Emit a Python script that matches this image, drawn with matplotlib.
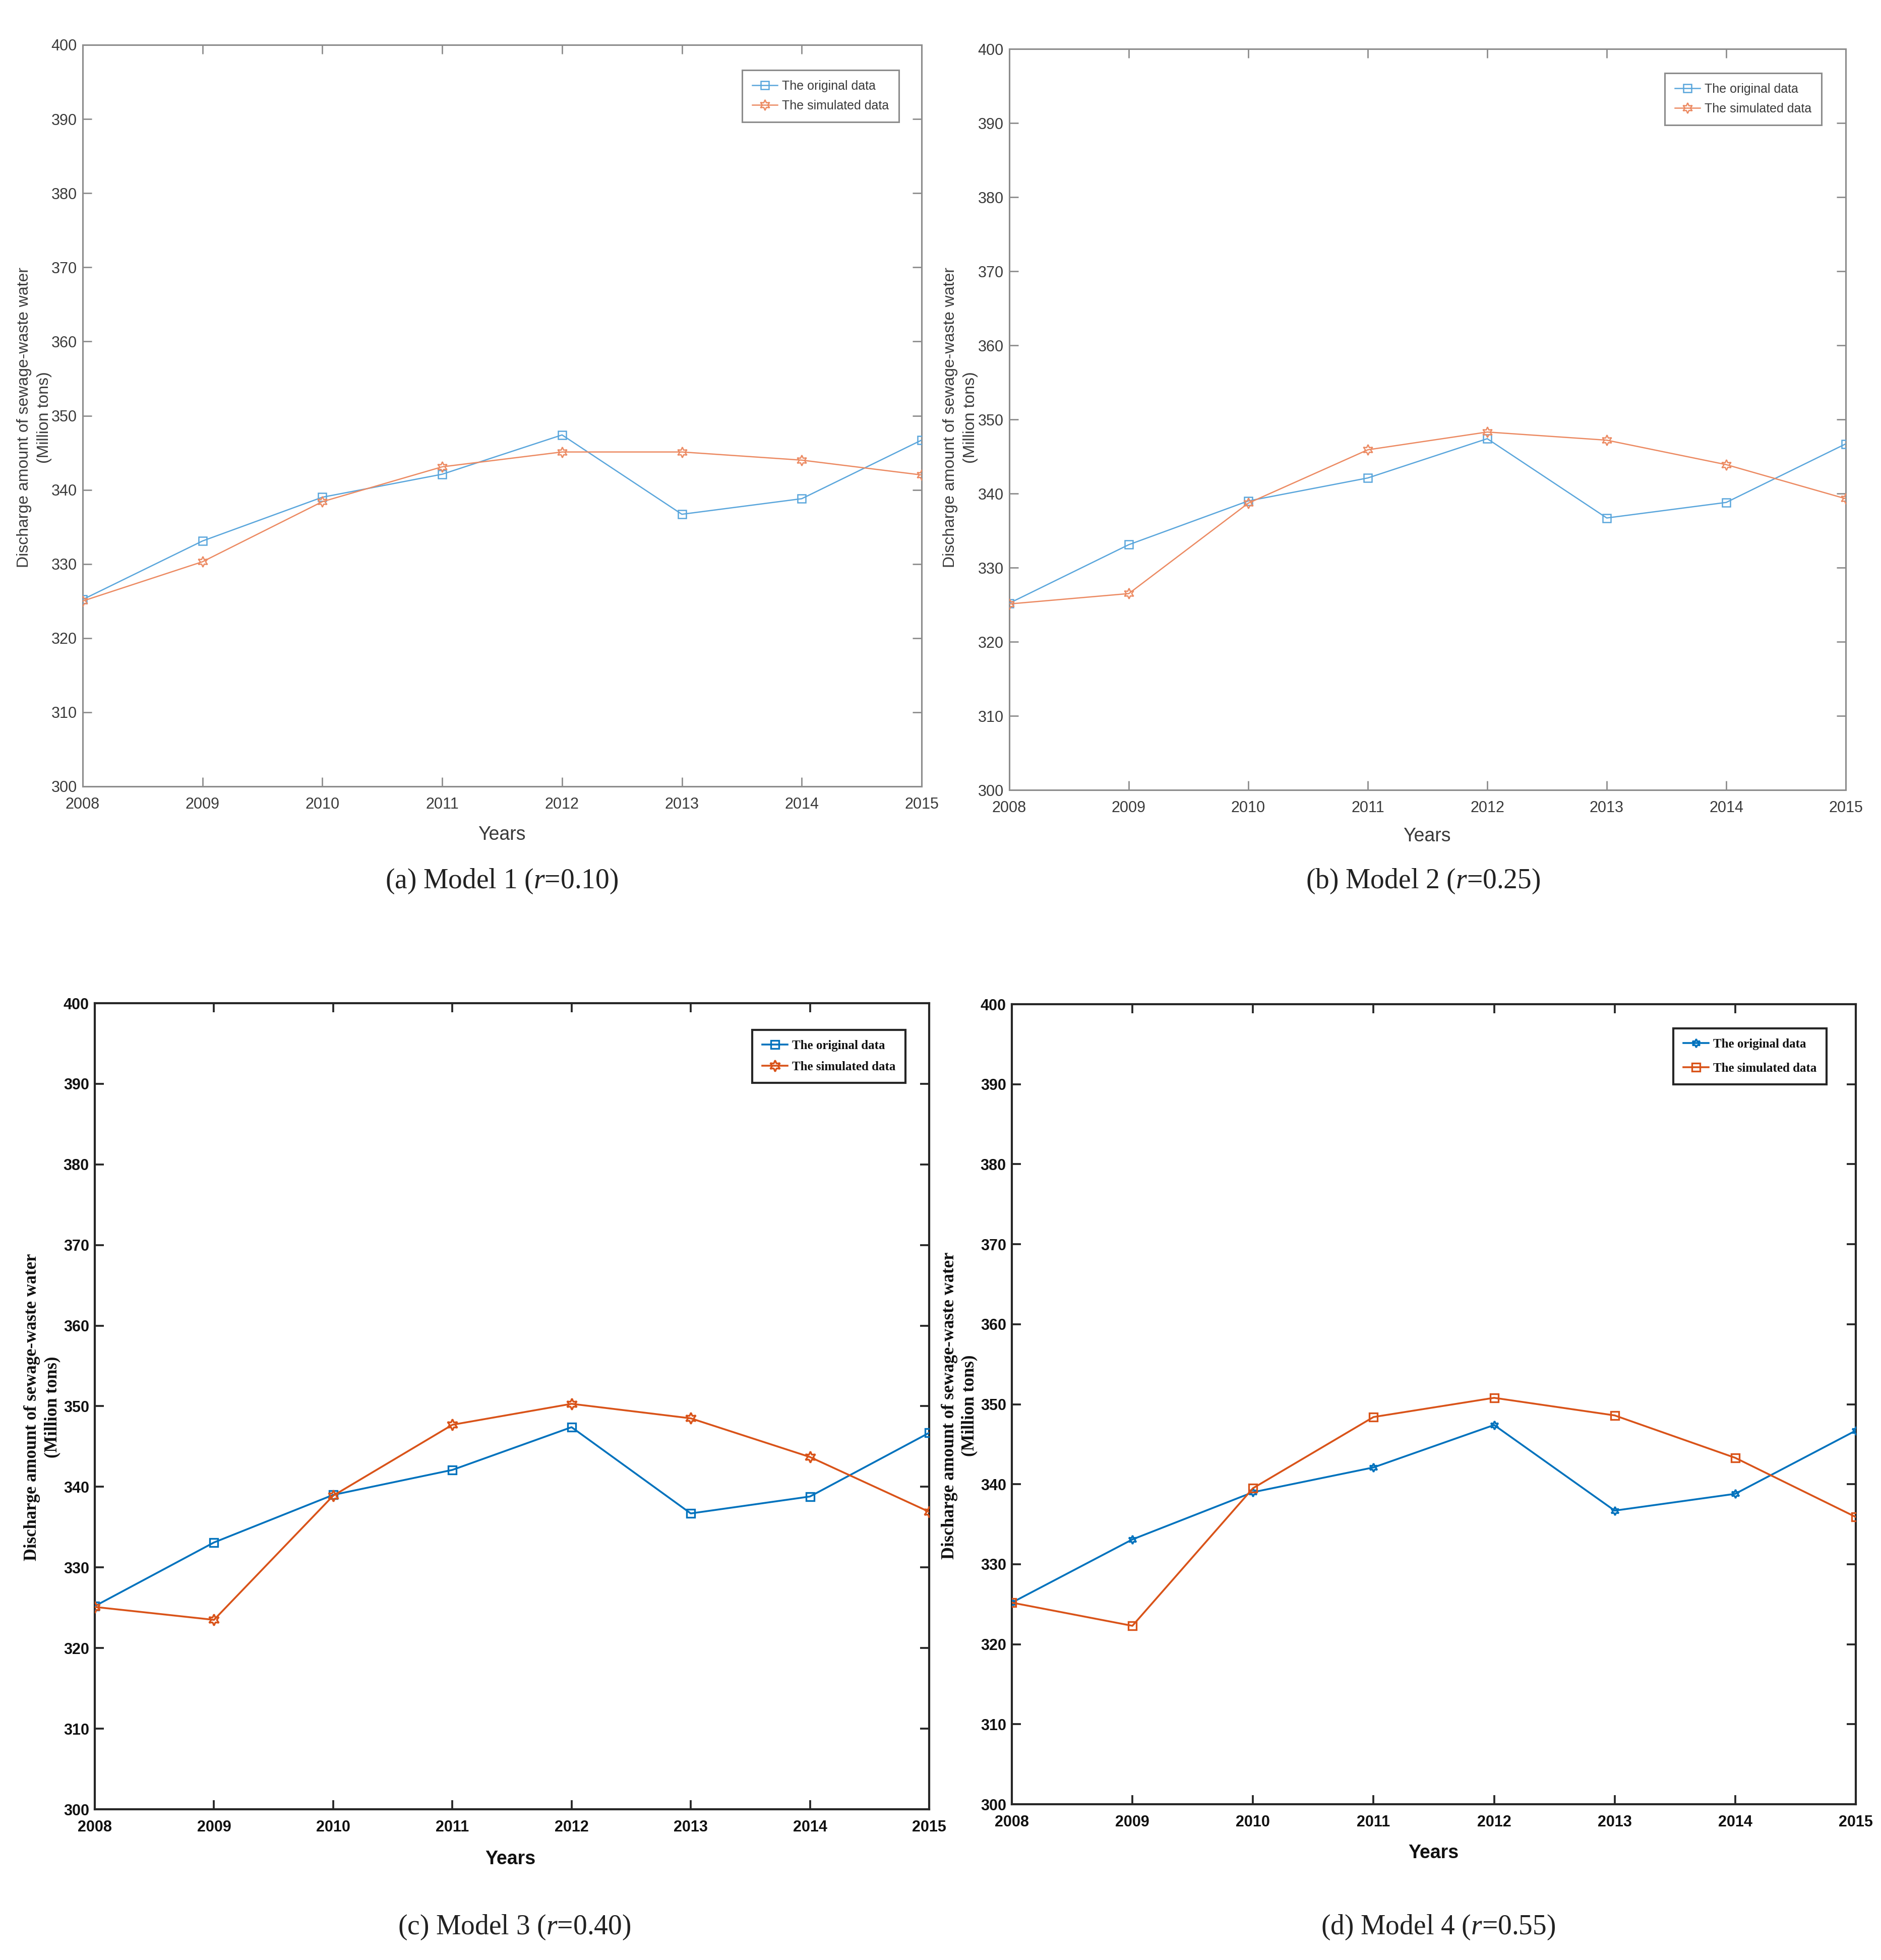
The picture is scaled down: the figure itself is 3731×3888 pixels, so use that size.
import matplotlib
matplotlib.use('Agg')
import matplotlib.pyplot as plt
from matplotlib.lines import Line2D

# ---------------- data ----------------
years = [2008, 2009, 2010, 2011, 2012, 2013, 2014, 2015]
original = [325.2, 333.1, 339.0, 342.1, 347.4, 336.7, 338.8, 346.7]
sim_model1 = [325.0, 330.3, 338.4, 343.1, 345.1, 345.1, 344.0, 342.0]
sim_model2 = [325.1, 326.5, 338.7, 345.9, 348.3, 347.2, 343.9, 339.3]
sim_model3 = [325.1, 323.5, 338.9, 347.7, 350.3, 348.5, 343.7, 336.9]
sim_model4 = [325.2, 322.3, 339.5, 348.4, 350.8, 348.6, 343.3, 335.9]
y_ticks = list(range(300, 401, 10))
captions = ['(a) Model 1 ($r$=0.10)', '(b) Model 2 ($r$=0.25)',
            '(c) Model 3 ($r$=0.40)', '(d) Model 4 ($r$=0.55)']
legend_labels = ['The original data', 'The simulated data']
x_label = 'Years'
y_label_lines = ['Discharge amount of sewage-waste water', '(Million tons)']

# ---------------- layout / style ----------------
W, H = 3731, 3888
DPI = 100
plt.rcParams['mathtext.fontset'] = 'custom'
plt.rcParams['mathtext.rm'] = 'Liberation Serif'
plt.rcParams['mathtext.it'] = 'Liberation Serif:italic'

NARROW = ['Liberation Sans Narrow', 'Liberation Sans', 'DejaVu Sans']
SERIF = ['Liberation Serif', 'DejaVu Serif']
SANS = ['Liberation Sans', 'DejaVu Sans']

fig = plt.figure(figsize=(W / DPI, H / DPI), dpi=DPI)
fig.patch.set_facecolor('white')

def fx(px):
    return px / W

def fy(py):
    return 1 - py / H

star6 = (6, 1, 0)

panels = [
    dict(box=(164, 89, 1828, 1560), sim=sim_model1, light=True,
         orig_marker='s', sim_marker=star6,
         legend_corner=(1783, 139), ylab=(48, 88, 828), xlab=(995, 1656),
         cap=(995, 1748), legsp=0.6),
    dict(box=(2002, 97, 3661, 1567), sim=sim_model2, light=True,
         orig_marker='s', sim_marker=star6,
         legend_corner=(3613, 145), ylab=(1885, 1925, 828), xlab=(2830, 1659),
         cap=(2823, 1748), legsp=0.6),
    dict(box=(188, 1990, 1843, 3589), sim=sim_model3, light=False,
         orig_marker='s', sim_marker=star6,
         legend_corner=(1796, 2043), ylab=(64, 104, 2791), xlab=(1012, 3688),
         cap=(1020, 3823), legsp=0.75),
    dict(box=(2007, 1992, 3681, 3579), sim=sim_model4, light=False,
         orig_marker=star6, sim_marker='s',
         legend_corner=(3623, 2040), ylab=(1883, 1923, 2788), xlab=(2843, 3676),
         cap=(2853, 3823), legsp=1.0),
]

for i, p in enumerate(panels):
    l, t, r, b = p['box']
    ax = fig.add_axes([fx(l), fy(b), (r - l) / W, (b - t) / H])
    if p['light']:
        c_orig, c_sim = '#5AA6DC', '#EC8A62'
        lw, ms, mew = 1.8, 11, 1.8
        spine_c, spine_w = '#8C8C8C', 2.2
        txt_c = '#3A3A3A'
        tick_font = dict(family=NARROW, size=22)
        leg_font = dict(family=NARROW, size=18)
        lab_font = dict(family=SANS, size=23)
        xlab_font = dict(family=NARROW, size=27)
    else:
        c_orig, c_sim = '#0072BD', '#D95319'
        lw, ms, mew = 2.6, 12, 2.4
        spine_c, spine_w = '#262626', 3.0
        txt_c = '#111111'
        tick_font = dict(family=NARROW, size=22, weight='bold')
        leg_font = dict(family=SERIF, size=18, weight='bold')
        lab_font = dict(family=SERIF, size=25, weight='bold')
        xlab_font = dict(family=NARROW, size=27, weight='bold')

    ax.plot(years, original, color=c_orig, lw=lw, marker=p['orig_marker'],
            ms=ms, mfc='none', mec=c_orig, mew=mew, zorder=3)
    ax.plot(years, p['sim'], color=c_sim, lw=lw, marker=p['sim_marker'],
            ms=ms + (4 if p['sim_marker'] == star6 else 0), mfc='none',
            mec=c_sim, mew=mew, zorder=4)

    ax.set_xlim(2008, 2015)
    ax.set_ylim(300, 400)
    ax.set_xticks(years)
    ax.set_yticks(y_ticks)
    ax.set_xticklabels([str(y) for y in years], color=txt_c, **tick_font)
    ax.set_yticklabels([str(v) for v in y_ticks], color=txt_c, **tick_font)
    ax.tick_params(axis='both', which='major', direction='in', length=13,
                   width=spine_w * 0.9, color=spine_c, top=True, right=True)
    ax.tick_params(axis='x', pad=15)
    ax.tick_params(axis='y', pad=8)
    for s in ax.spines.values():
        s.set_color(spine_c)
        s.set_linewidth(spine_w)

    handles = [
        Line2D([], [], color=c_orig, lw=lw, marker=p['orig_marker'], ms=ms,
               mfc='none', mec=c_orig, mew=mew),
        Line2D([], [], color=c_sim, lw=lw, marker=p['sim_marker'],
               ms=ms + (4 if p['sim_marker'] == star6 else 0), mfc='none',
               mec=c_sim, mew=mew),
    ]
    lx, ly = p['legend_corner']
    leg = ax.legend(handles, legend_labels, loc='upper right',
                    bbox_to_anchor=(fx(lx), fy(ly)),
                    bbox_transform=fig.transFigure, borderaxespad=0,
                    fancybox=False, framealpha=1, edgecolor=spine_c,
                    handlelength=2.0, handletextpad=0.35, borderpad=0.8,
                    labelspacing=p['legsp'], prop=leg_font)
    leg.get_frame().set_linewidth(spine_w)
    for tx in leg.get_texts():
        tx.set_color(txt_c)

    # axis labels
    y1x, y2x, yy = p['ylab']
    fig.text(fx(y1x), fy(yy), y_label_lines[0], rotation=90, ha='center',
             va='center', color=txt_c, **lab_font)
    fig.text(fx(y2x), fy(yy), y_label_lines[1], rotation=90, ha='center',
             va='center', color=txt_c, **lab_font)
    xx, xy = p['xlab']
    fig.text(fx(xx), fy(xy), x_label, ha='center', va='center',
             color=txt_c, **xlab_font)
    cx, cy = p['cap']
    fig.text(fx(cx), fy(cy), captions[i], ha='center', va='center',
             color='#222222', family=SERIF, size=40)

fig.savefig('out.png', dpi=DPI, facecolor='white')
